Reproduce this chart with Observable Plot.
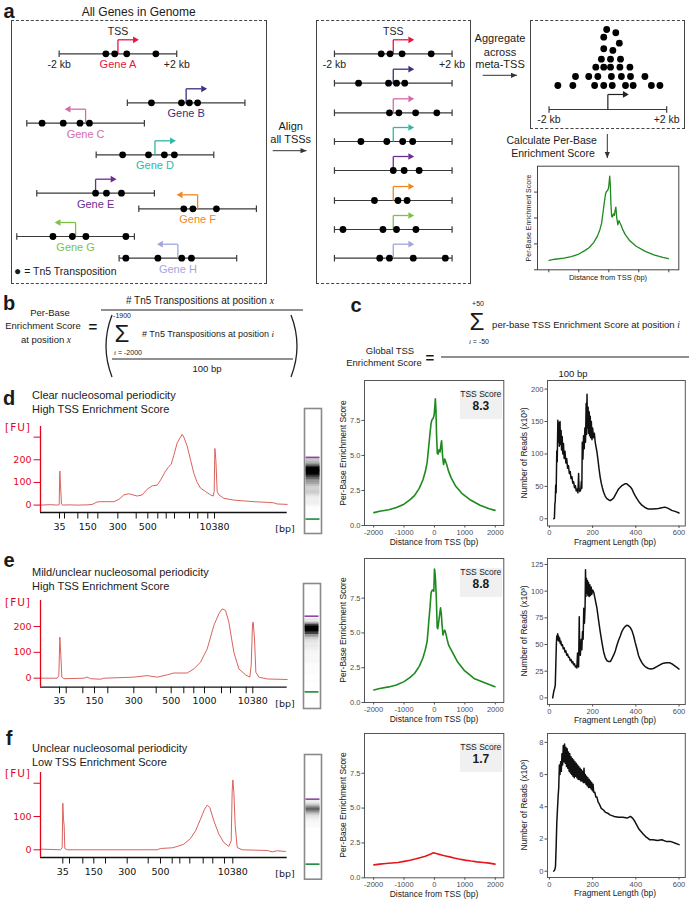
<!DOCTYPE html>
<html><head><meta charset="utf-8">
<script src="https://cdn.jsdelivr.net/npm/d3@7"></script>
<script src="https://cdn.jsdelivr.net/npm/@observablehq/plot@0.6"></script>
<style>
html,body{margin:0;padding:0;background:#fff;}
#fig{position:relative;width:692px;height:900px;overflow:hidden;font-family:"Liberation Sans",Arial,Helvetica,sans-serif;color:#1a1a1a;}
#fig .t{position:absolute;white-space:nowrap;line-height:1;}
.box{position:absolute;box-sizing:border-box;border-left:1px solid #444;border-right:1px solid #444;border-top:1px dashed #444;border-bottom:1px dashed #444;}
.it{font-family:"Liberation Serif","DejaVu Serif",serif;font-style:italic;}
</style></head><body><div id="fig"></div>
<script>
// ================= DATA =================
// Panel a – schematic genes (TSS locus in kb along a schematic genome, strand, track row)
const geneNames  = ["Gene A","Gene B","Gene C","Gene D","Gene E","Gene F","Gene G","Gene H"];
const geneColors = ["#e5173f","#3b2f80","#d56ba9","#2fb8a6","#6c2c90","#f4861f","#7cc243","#9fa7d9"];
const geneTSS    = [3.62, 5.94, 2.52, 4.88, 2.86, 6.33, 2.18, 5.66];
const geneStrand = [1, 1, -1, 1, 1, -1, -1, -1];
const geneTrack  = [3.33, 8.23, 10.27, 13.43, 17.27, 18.83, 21.6, 23.77];
const alignedTrack = [3.33, 6.27, 9.23, 12.1, 15.0, 18.0, 20.9, 23.77];
// Tn5 insertion sites relative to each TSS (kb, genome orientation)
const tn5Offsets = [[-0.41,-0.11,0.30,1.29],[-1.18,-0.16,0.11,0.39],[-1.48,-0.76,-0.19,0.13],[-1.10,-0.22,0.32,0.66],
                    [0.0,0.37,0.88],[-0.47,-0.16,0.64],[-0.77,-0.11,0.35,1.71],[-1.77,-0.68,0.13,0.46]];
// meta-TSS aggregate pile (kb, stack level)
const metaKb    = [-1.70,-1.19,-0.45,-0.14,0.15,0.60,0.86,1.48,1.77, -1.10,-0.65,-0.34,0.12,0.46,0.77,1.26,
                   -0.41,-0.14,0.09,0.41,0.75, -0.22,0.09,0.43, -0.14,0.17, 0.39, -0.14, 0.27, -0.04];
const metaLevel = [0,0,0,0,0,0,0,0,0, 1,1,1,1,1,1,1, 2.03,2.03,2.03,2.03,2.03, 2.92,2.92,2.92, 4.08,3.89, 4.7, 5.37, 5.86, 6.22];

// Panels d–f: TSS enrichment profiles (distance bp, per-base score)
const tssX_d = [-1990,-1800,-1500,-1250,-1000,-800,-650,-500,-380,-300,-240,-190,-140,-110,-80,-40,-10,10,30,50,70,95,120,150,185,215,235,265,300,340,370,410,460,550,700,900,1200,1500,1800,1990];
const tssY_d = [0.92,1.02,1.12,1.28,1.52,1.85,2.15,2.65,3.25,3.85,4.5,5.6,6.7,7.3,7.55,7.65,7.9,8.4,9.05,8.2,6.4,5.15,5.1,5.4,5.25,5.8,6.05,5.0,4.35,4.75,4.55,4.3,3.9,3.4,2.8,2.3,1.8,1.45,1.2,1.08];
const tssX_e = [-1990,-1800,-1500,-1250,-1000,-800,-650,-500,-380,-300,-240,-190,-140,-110,-80,-50,-20,0,15,35,60,90,110,140,170,200,225,250,280,310,340,380,420,470,580,750,970,1300,1630,1990];
const tssY_e = [0.9,1.0,1.12,1.25,1.5,1.8,2.1,2.6,3.2,3.8,4.4,5.7,7.0,7.9,8.05,8.1,8.0,9.6,9.4,8.8,7.6,5.4,5.3,5.8,6.3,6.8,6.4,5.6,4.85,5.1,5.2,4.9,4.5,4.1,3.65,2.95,2.33,1.73,1.44,1.13];
const tssX_f = [-1990,-1800,-1600,-1400,-1200,-1000,-800,-600,-450,-300,-200,-120,-60,-20,20,60,120,200,300,400,500,650,800,1000,1200,1400,1600,1800,1990];
const tssY_f = [0.93,0.98,1.02,1.06,1.1,1.18,1.26,1.36,1.45,1.55,1.63,1.7,1.78,1.8,1.76,1.74,1.7,1.66,1.6,1.55,1.5,1.42,1.35,1.27,1.2,1.14,1.1,1.05,0.98];
const tssScores = ["8.3","8.8","1.7"];

// Fragment length distributions [bp, reads]
const frag_d = [[20,0],[23,1],[25,22],[27,28],[29,52],[31,40],[34,105],[36,88],[39,152],[41,118],[44,148],[46,112],[49,150],[51,115],[54,136],[56,106],[59,127],[62,100],[65,116],[68,93],[72,104],[76,86],[80,93],[84,78],[88,82],[92,70],[96,73],[100,62],[104,65],[108,55],[112,57],[116,48],[120,51],[124,43],[128,46],[132,40],[135,70],[137,47],[141,42],[145,45],[148,58],[150,47],[152,118],[155,92],[158,128],[161,108],[164,140],[167,118],[170,178],[172,130],[174,192],[176,140],[179,172],[181,132],[184,165],[186,128],[189,158],[191,125],[194,150],[197,122],[200,140],[204,125],[208,132],[212,118],[216,110],[220,103],[225,90],[230,76],[235,64],[240,55],[245,48],[251,41],[258,35],[266,31],[275,29],[282,28],[290,30],[297,32],[305,37],[312,41],[320,46],[335,51],[350,54],[358,54],[365,52],[375,49],[382,46],[390,40],[398,35],[405,31],[415,26],[428,21],[445,17],[458,15],[480,15],[505,16],[520,17],[535,18],[550,16],[566,13],[585,11],[600,9]];
const frag_e = [[15,0],[20,6],[24,9],[27,12],[30,35],[32,50],[34,58],[36,55],[38,60],[40,54],[42,58],[44,53],[47,56],[50,51],[53,53],[56,49],[60,50],[64,46],[68,47],[72,43],[76,44],[80,40],[84,41],[88,38],[92,38],[96,35],[100,36],[104,33],[108,34],[112,31],[116,32],[120,29],[124,30],[127,28],[130,42],[132,30],[135,29],[138,76],[140,42],[143,40],[147,55],[150,45],[153,62],[156,55],[159,84],[162,70],[165,85],[167,120],[169,95],[171,112],[173,98],[176,110],[178,96],[181,108],[184,95],[187,106],[190,96],[193,104],[196,97],[200,101],[205,99],[212,92],[220,84],[228,72],[235,62],[243,52],[251,43],[258,38],[266,35],[274,34],[282,34],[290,37],[297,40],[305,44],[312,49],[320,54],[328,58],[335,62],[343,65],[351,67],[358,68],[366,67.5],[374,66],[382,63],[390,58],[397,52],[405,46],[412,40],[420,36],[428,33],[435,31],[445,29],[458,27.5],[470,27],[482,27.5],[495,29],[512,31],[528,32.5],[543,33],[555,33],[566,32],[580,30],[590,28.5],[600,27]];
const frag_f = [[20,0],[25,0.1],[28,0.3],[31,1.5],[34,3.0],[37,3.8],[40,4.6],[43,5.2],[46,6.6],[49,6.0],[52,6.8],[55,6.2],[58,7.3],[61,6.6],[64,7.8],[67,6.8],[70,7.9],[73,6.7],[76,7.7],[79,6.5],[82,7.6],[85,6.4],[88,7.4],[91,6.2],[94,7.3],[97,6.1],[100,7.1],[103,6.0],[106,7.0],[109,5.9],[112,6.9],[115,5.8],[118,6.8],[121,5.9],[124,6.7],[127,5.8],[130,6.6],[133,5.7],[136,6.5],[139,5.7],[142,6.4],[145,5.6],[148,6.3],[151,5.6],[154,6.2],[157,5.5],[160,6.4],[163,5.5],[166,6.0],[169,5.4],[172,5.9],[175,5.3],[178,5.8],[181,5.2],[184,5.7],[187,5.2],[190,5.6],[193,5.1],[196,5.5],[199,5.0],[202,5.4],[205,4.9],[210,4.9],[215,4.6],[220,4.6],[225,4.3],[230,4.2],[240,3.9],[250,3.8],[260,3.65],[270,3.6],[280,3.5],[290,3.45],[300,3.4],[320,3.35],[340,3.35],[360,3.3],[375,3.4],[385,3.3],[395,3.1],[405,2.85],[415,2.6],[425,2.45],[435,2.3],[445,2.15],[455,2.05],[465,1.95],[480,1.95],[500,1.9],[520,1.95],[540,1.85],[560,1.85],[580,1.75],[600,1.65]];

// Bioanalyzer: ladder sizes and their migration times (relative) per sample
const ladderBp = [35,50,100,150,200,300,400,500,600,700,1000,2000,3000,7000,10380];
const ladderT_d = [7.70,9.73,15.13,19.18,23.24,31.35,38.79,43.50,47.55,50.95,54.32,60.40,63.76,67.82,70.54];
const ladderT_e = [7.70,10.42,17.15,21.89,27.28,37.82,46.90,52.98,58.09,62.14,66.48,73.37,77.02,83.38,86.06];
const ladderT_f = [9.04,11.76,17.15,21.61,26.35,35.14,43.66,48.64,53.39,56.47,60.52,65.95,69.84,74.58,77.95];
const labelled_d = [35,150,300,500,10380];
const labelled_e = [35,150,300,500,1000,10380];
const labelled_f = [35,150,300,500,10380];
// electropherogram traces [time, FU]
const bio_d = [[0,0],[4.05,2],[6.76,0],[7.57,2],[7.84,150],[8.11,90],[8.51,5],[8.92,0],[11.5,1],[14.86,0],[18.92,1],[20.95,3],[22.97,14],[24.32,15],[29.73,15],[31.76,25],[33.78,45],[35.81,50],[37.16,46],[39.19,40],[41.22,45],[43.24,70],[45.27,85],[47.30,88],[48.65,110],[50.68,150],[52.03,170],[52.97,180],[54.05,220],[55.41,275],[56.76,300],[57.43,312],[58.11,300],[59.46,260],[60.81,200],[62.16,140],[63.51,100],[64.86,75],[66.89,60],[68.92,45],[70.0,40],[70.41,60],[70.68,250],[71.08,200],[71.62,60],[72.30,45],[74.32,30],[78.38,22],[86.49,15],[91.89,12],[94.59,10],[95.95,5],[100,3]];
const bio_e = [[0,0],[6.76,0],[7.43,10],[7.84,159],[8.24,88],[8.65,4],[9.46,-2],[17.57,0],[18.92,4],[20.27,-2],[24.32,-4],[25.68,0],[37.84,4],[43.24,10],[47.30,4],[51.35,13],[54.05,20],[59.46,20],[62.16,36],[64.86,62],[67.57,113],[70.27,204],[72.30,249],[73.65,268],[75.0,262],[76.35,217],[78.38,100],[80.41,36],[83.11,13],[84.86,4],[85.41,50],[85.95,210],[86.22,217],[86.76,152],[87.30,23],[88.51,4],[91.89,-3],[100,-5]];
const bio_f = [[0.27,2],[8.11,0],[8.78,7],[9.05,140],[9.32,92],[9.59,72],[9.86,4],[10.81,0],[47.30,0],[48.65,4],[53.38,6],[55.41,10],[58.11,17],[60.81,34],[62.84,57],[64.86,92],[66.49,122],[67.57,134],[68.65,127],[70.27,87],[72.30,47],[74.32,22],[76.35,10],[77.30,27],[77.70,177],[77.97,210],[78.38,172],[78.92,72],[79.73,7],[81.76,0],[91.89,-2],[93.92,-6],[95.95,-3],[99.32,-5]];

// ================= HELPERS =================
const fig = document.getElementById("fig");
const RED = "#e3061b";
const FONT = "Liberation Sans, Arial, sans-serif";
function place(node, left, top) {
  node.style.position = "absolute"; node.style.left = left + "px"; node.style.top = top + "px";
  node.style.overflow = "visible"; node.style.maxWidth = "none";
  fig.appendChild(node); return node;
}
function label(html, x, y, o = {}) {
  const d = document.createElement("div");
  d.className = "t"; d.innerHTML = html;
  const s = d.style;
  s.fontSize = (o.size || 10) + "px";
  if (o.color) s.color = o.color;
  if (o.weight) s.fontWeight = o.weight;
  if (o.family) s.fontFamily = o.family;
  if (o.spacing) s.letterSpacing = o.spacing + "px";
  const ax = o.anchor === "start" ? "0" : o.anchor === "end" ? "-100%" : "-50%";
  s.left = x + "px"; s.top = y + "px";
  s.transform = `translate(${ax},-50%)` + (o.rotate ? ` rotate(${o.rotate}deg)` : "");
  fig.appendChild(d); return d;
}
function box(l, t, w, h) {
  const d = document.createElement("div"); d.className = "box";
  Object.assign(d.style, {left: l + "px", top: t + "px", width: w + "px", height: h + "px"});
  fig.appendChild(d);
}
const baseStyle = {background: "transparent", overflow: "visible", fontFamily: FONT};

// ================= PANEL a =================
box(11, 20, 256, 264); box(316, 20, 155, 264); box(530, 20, 155, 109);
const genes = geneNames.map((name, i) => ({name, tss: geneTSS[i], dir: geneStrand[i], track: geneTrack[i], color: geneColors[i]}));
const gDots = genes.flatMap((g, i) => tn5Offsets[i].map(o => ({x: g.tss + o, track: g.track})));
const aligned = geneNames.map((name, i) => ({name, tss: 0, dir: 1, track: alignedTrack[i], color: geneColors[i]}));
const aDots = aligned.flatMap((g, i) => tn5Offsets[i].map(o => ({x: o * geneStrand[i], track: g.track})));
const ARW = 1.4;
function geneMarks(gs, dots) {
  const ends = gs.flatMap(d => [-2, 2].map(e => ({x: d.tss + e, track: d.track})));
  return [
    Plot.link(gs, {x1: d => d.tss - 2, x2: d => d.tss + 2, y1: "track", y2: "track", stroke: "#3a3a3a", strokeWidth: 1.2}),
    Plot.link(ends, {x1: "x", x2: "x", y1: d => d.track - 0.33, y2: d => d.track + 0.33, stroke: "#3a3a3a", strokeWidth: 1.2}),
    Plot.link(gs, {x1: "tss", x2: "tss", y1: "track", y2: d => d.track - ARW, stroke: "color", strokeWidth: 1.3}),
    Plot.link(gs, {x1: "tss", x2: d => d.tss + d.dir * 0.52, y1: d => d.track - ARW, y2: d => d.track - ARW, stroke: "color", strokeWidth: 1.3}),
    Plot.dot(gs, {x: d => d.tss + d.dir * 0.58, y: d => d.track - ARW, symbol: "triangle", r: 2.5, fill: "color", rotate: d => d.dir * 90}),
    Plot.dot(dots, {x: "x", y: "track", r: 3.4, fill: "#000"})
  ];
}
const KB = 29.4;
const A = genes[0];
place(Plot.plot({
  width: 256, height: 264, margin: 0, style: baseStyle,
  x: {domain: [0, 256 / KB], axis: null}, y: {domain: [0, 26.4], range: [0, 264], axis: null}, color: {type: "identity"},
  marks: [
    ...geneMarks(genes, gDots),
    Plot.text(genes, {x: "tss", y: "track", dy: 11, text: "name", fill: "color", fontSize: 11}),
    Plot.text([{x: A.tss - 2, t: "-2 kb"}, {x: A.tss + 2, t: "+2 kb"}], {x: "x", y: () => A.track, dy: 11, text: "t", fontSize: 10.5, fill: "#222"}),
    Plot.text([A], {x: "tss", y: "track", dy: -22, text: () => "TSS", fontSize: 10.5, fill: "#222"})
  ]
}), 11, 20);
const A2 = aligned[0];
place(Plot.plot({
  width: 155, height: 264, margin: 0, style: baseStyle,
  x: {domain: [-2.61, 2.66], axis: null}, y: {domain: [0, 26.4], range: [0, 264], axis: null}, color: {type: "identity"},
  marks: [
    ...geneMarks(aligned, aDots),
    Plot.text([{x: -2, t: "-2 kb"}, {x: 2, t: "+2 kb"}], {x: "x", y: () => A2.track, dy: 11, text: "t", fontSize: 10.5, fill: "#222"}),
    Plot.text([A2], {x: "tss", y: "track", dy: -22, text: () => "TSS", fontSize: 10.5, fill: "#222"})
  ]
}), 316, 20);
const META_AXIS = -2.67, META_ARROW = -1.0;
place(Plot.plot({
  width: 155, height: 109, margin: 0, style: baseStyle,
  x: {domain: [-2.63, 2.64], axis: null}, y: {domain: [-4.89, 7.22], axis: null},
  marks: [
    Plot.dot(metaKb.map((x, i) => ({x, y: metaLevel[i]})), {x: "x", y: "y", r: 3.4, fill: "#000"}),
    Plot.link([{}], {x1: -2, x2: 2, y1: META_AXIS, y2: META_AXIS, stroke: "#3a3a3a", strokeWidth: 1.2}),
    Plot.link([-2, 2], {x1: d => d, x2: d => d, y1: META_AXIS - 0.37, y2: META_AXIS + 0.37, stroke: "#3a3a3a", strokeWidth: 1.2}),
    Plot.link([{}], {x1: 0, x2: 0, y1: META_AXIS, y2: META_ARROW, stroke: "#222", strokeWidth: 1.2}),
    Plot.link([{}], {x1: 0, x2: 0.52, y1: META_ARROW, y2: META_ARROW, stroke: "#222", strokeWidth: 1.2}),
    Plot.dot([{}], {x: 0.58, y: META_ARROW, symbol: "triangle", r: 2.5, fill: "#222", rotate: 90}),
    Plot.text([{x: -2, t: "-2 kb"}, {x: 2, t: "+2 kb"}], {x: "x", y: () => META_AXIS, dy: 10.5, text: "t", fontSize: 10.5, fill: "#222"})
  ]
}), 530, 20);
// mini per-base chart
const tss_d = tssX_d.map((x, i) => [x, tssY_d[i]]);
const tss_e = tssX_e.map((x, i) => [x, tssY_e[i]]);
const tss_f = tssX_f.map((x, i) => [x, tssY_f[i]]);
place(Plot.plot({
  width: 170, height: 125, marginLeft: 17, marginRight: 11.7, marginTop: 5.7, marginBottom: 15.7, style: baseStyle,
  x: {domain: [-2377, 2333]}, y: {domain: [0, 10]},
  marks: [
    Plot.line(tss_d, {x: d => d[0], y: d => d[1], stroke: "#1e8a1e", strokeWidth: 1.3}),
    Plot.axisX({ticks: [-2000, -1000, 0, 1000, 2000], tickSize: 3, tickFormat: () => "", label: null, color: "#444"}),
    Plot.axisY({ticks: [0, 2.5, 5, 7.5], tickSize: 3, tickFormat: () => "", label: null, color: "#444"}),
    Plot.frame({stroke: "#444"})
  ]
}), 520, 160);

// panel a text
label("a", 9, 11, {size: 20, weight: "bold"});
label("All Genes in Genome", 138.7, 11.7, {size: 12});
label("<span style='font-size:12px'>●</span> = Tn5 Transposition", 14, 271, {size: 10.5, anchor: "start"});
label("Align", 290.7, 126, {size: 11});
label("all TSSs", 290.7, 139.3, {size: 11});
label("Aggregate", 500, 38.3, {size: 11});
label("across", 500, 51.7, {size: 11});
label("meta-TSS", 500, 64.3, {size: 11});
label("Calculate Per-Base", 551.7, 140, {size: 10.5});
label("Enrichment Score", 553, 153.3, {size: 10.5});
label("Per-Base Enrichment Score", 528.3, 217.5, {size: 7, rotate: -90});
label("Distance from TSS (bp)", 608, 277.5, {size: 7.5});

// ================= annotation overlay (arrows, formula bars) =================
const ov = d3.create("svg").attr("width", 692).attr("height", 900);
function arrowLine(x1, y1, x2, y2) {
  ov.append("line").attr("x1", x1).attr("y1", y1).attr("x2", x2).attr("y2", y2).attr("stroke", "#333").attr("stroke-width", 1);
  const a = Math.atan2(y2 - y1, x2 - x1), L = 6, W = 2.6;
  const p = [[x2, y2], [x2 - L * Math.cos(a) + W * Math.sin(a), y2 - L * Math.sin(a) - W * Math.cos(a)], [x2 - L * Math.cos(a) - W * Math.sin(a), y2 - L * Math.sin(a) + W * Math.cos(a)]];
  ov.append("polygon").attr("points", p.map(d => d.join(",")).join(" ")).attr("fill", "#333");
}
arrowLine(272.7, 150.7, 306.5, 150.7);
arrowLine(482.7, 75.3, 517, 75.3);
arrowLine(607.3, 134, 607.3, 158);
function hline(x1, x2, y, w = 1) { ov.append("line").attr("x1", x1).attr("x2", x2).attr("y1", y).attr("y2", y).attr("stroke", "#222").attr("stroke-width", w); }
hline(101, 303, 310, 1.1); hline(112, 293, 359, 1); hline(441, 689, 357, 1.1);
ov.append("path").attr("d", "M112,315 Q100,346 112,377").attr("fill", "none").attr("stroke", "#222").attr("stroke-width", 1.3);
ov.append("path").attr("d", "M291,315 Q303,346 291,377").attr("fill", "none").attr("stroke", "#222").attr("stroke-width", 1.3);
place(ov.node(), 0, 0);

// ================= PANELS b, c =================
label("b", 9, 303, {size: 20, weight: "bold"});
label("# Tn5 Transpositions at position <span class='it'>x</span>", 200, 301, {size: 10});
label("Per-Base", 50, 313, {size: 9.5});
label("Enrichment Score", 43, 326, {size: 9.5});
label("=", 93, 326, {size: 15, weight: "bold"});
label("at position <span class='it'>x</span>", 46, 340, {size: 9.5});
label("-1900", 122, 315, {size: 7});
label("Σ", 122, 334, {size: 24});
label("# Tn5 Transpositions at position <span class='it'>i</span>", 208, 334, {size: 9});
label("<span class='it'>i</span> = -2000", 128, 353, {size: 7});
label("100 bp", 207, 369, {size: 9.5});

label("c", 356, 305, {size: 20, weight: "bold"});
label("+50", 478, 303, {size: 7});
label("Σ", 477, 322, {size: 24});
label("per-base TSS Enrichment Score at position <span class='it'>i</span>", 586, 325, {size: 9.5});
label("<span class='it'>i</span> = -50", 479, 342, {size: 7});
label("Global TSS", 390, 351, {size: 9.5});
label("Enrichment Score", 384, 363, {size: 9.5});
label("=", 430, 357, {size: 15, weight: "bold"});
label("100 bp", 573, 374, {size: 9.5});

// ================= PANELS d, e, f =================
function bio({trace, ladder, labelled, yDomain, yTicks, yLabels, top, h}) {
  const mL = 40, mR = 13.3, mT = 6, mB = 30;
  const tmap = new Map(ladder.map((t, i) => [t, labelled.includes(ladderBp[i]) ? String(ladderBp[i]) : ""]));
  const ymap = new Map(yTicks.map((v, i) => [v, yLabels[i]]));
  place(Plot.plot({
    width: 300, height: h + mT + mB, marginLeft: mL, marginRight: mR, marginTop: mT, marginBottom: mB,
    style: {...baseStyle, fontFamily: "DejaVu Sans, Verdana, sans-serif"},
    x: {domain: [0, 100]}, y: {domain: yDomain},
    marks: [
      Plot.line(trace, {x: d => d[0], y: d => d[1], stroke: "#d9625d", strokeWidth: 1}),
      Plot.ruleY([yDomain[0]], {stroke: "#111", strokeWidth: 1.3}),
      Plot.ruleX([0], {stroke: RED, strokeWidth: 1.3}),
      Plot.axisX({ticks: ladder, tickSize: 6.5, tickPadding: 4, tickFormat: t => tmap.get(t), fontSize: 9.5, color: "#111", label: null}),
      Plot.axisY({ticks: yTicks, tickSize: 6.5, tickPadding: 2.5, tickFormat: v => ymap.get(v), fontSize: 9.5, color: RED, label: null})
    ]
  }), 0, top - mT);
}
function gel({trace, ladder, tDomain, left, top, h}) {
  const lo = ladder[0], hi = ladder[ladder.length - 1];
  const pts = trace.filter(d => d[0] > lo + 1.2 && d[0] < hi - 1.2);
  const segs = d3.pairs(pts, (a, b) => ({t1: a[0], t2: b[0], v: Math.max(0, (a[1] + b[1]) / 2)}));
  place(Plot.plot({
    width: 17, height: h, margin: 0, style: baseStyle,
    x: {domain: [0, 1], axis: null}, y: {domain: tDomain, axis: null},
    color: {type: "pow", exponent: 0.8, domain: [0, 210], scheme: "greys", clamp: true},
    marks: [
      Plot.rect(segs, {x1: 0, x2: 1, y1: "t1", y2: "t2", fill: "v", stroke: "v", strokeWidth: 0.9, insetLeft: 2, insetRight: 2}),
      Plot.ruleY([hi], {stroke: "#8e44a8", strokeWidth: 1.6, insetLeft: 1.5, insetRight: 1.5}),
      Plot.ruleY([lo], {stroke: "#1d8a3c", strokeWidth: 1.6, insetLeft: 1.5, insetRight: 1.5}),
      Plot.frame({stroke: "#8a8a8a", strokeWidth: 1.6})
    ]
  }), left, top);
}
function gg({data, xDomain, yDomain, xTicks, yTicks, yFormat, stroke, sw, left, top, w, h}) {
  const mL = 30, mR = 6, mT = 6, mB = 16;
  place(Plot.plot({
    width: w + mL + mR, height: h + mT + mB, marginLeft: mL, marginRight: mR, marginTop: mT, marginBottom: mB, style: baseStyle,
    x: {domain: xDomain}, y: {domain: yDomain},
    marks: [
      Plot.axisX({ticks: xTicks, tickSize: 2.5, tickPadding: 1.5, fontSize: 7.5, color: "#4d4d4d", tickFormat: d => String(d), label: null}),
      Plot.axisY({ticks: yTicks, tickSize: 2.5, tickPadding: 1.5, fontSize: 7.5, color: "#4d4d4d", tickFormat: yFormat, label: null}),
      Plot.line(data, {x: d => d[0], y: d => d[1], stroke, strokeWidth: sw}),
      Plot.frame({stroke: "#555", strokeWidth: 1})
    ]
  }), left - mL, top - mT);
}
const rows = [
  {key: "d", title: ["Clear nucleosomal periodicity", "High TSS Enrichment Score"], labelY: 398, titleY: 395,
   bio: {trace: bio_d, ladder: ladderT_d, labelled: labelled_d, yDomain: [-32.7, 347], yTicks: [0, 100, 200, 300], yLabels: ["0", "100", "200", ""], top: 425.7, h: 86},
   gel: {tDomain: [-7, 120.3], left: 304, top: 408.3, h: 125},
   tss: tss_d, tssStroke: "#1e8a1e", frameTop: 380, frameBot: 525,
   frag: frag_d, fragDomain: [-11.1, 213.3], fragTicks: [0, 50, 100, 150, 200], fragBot: 525.5, score: tssScores[0]},
  {key: "e", title: ["Mild/unclear nucleosomal periodicity", "High TSS Enrichment Score"], labelY: 560, titleY: 572.3,
   bio: {trace: bio_e, ladder: ladderT_e, labelled: labelled_e, yDomain: [-34.8, 300.4], yTicks: [0, 100, 200], yLabels: ["0", "100", "200"], top: 600, h: 86.7},
   gel: {tDomain: [-9.5, 119.9], left: 303.3, top: 583.3, h: 125},
   tss: tss_e, tssStroke: "#1e8a1e", frameTop: 558.3, frameBot: 702.3,
   frag: frag_e, fragDomain: [-6.2, 130.6], fragTicks: [0, 25, 50, 75, 100, 125], fragBot: 704.3, score: tssScores[1]},
  {key: "f", title: ["Unclear nucleosomal periodicity", "Low TSS Enrichment Score"], labelY: 738, titleY: 748.3,
   bio: {trace: bio_f, ladder: ladderT_f, labelled: labelled_f, yDomain: [-23.1, 232.3], yTicks: [0, 100, 200], yLabels: ["0", "100", ""], top: 771.7, h: 85},
   gel: {tDomain: [-6.9, 125.3], left: 304, top: 754.3, h: 124.7},
   tss: tss_f, tssStroke: "#e8161b", frameTop: 733, frameBot: 877.3,
   frag: frag_f, fragDomain: [-0.39, 8.55], fragTicks: [0, 2, 4, 6, 8], fragBot: 877, score: tssScores[2]}
];
for (const r of rows) {
  label(r.key, 9, r.labelY, {size: 20, weight: "bold"});
  label(r.title[0], 32, r.titleY, {size: 11, anchor: "start"});
  label(r.title[1], 32, r.titleY + 14, {size: 11, anchor: "start"});
  bio(r.bio);
  label("[FU]", 18, r.bio.top + 1.6, {size: 10.5, color: RED, family: "DejaVu Sans, Verdana, sans-serif", spacing: 1});
  label("[bp]", 285, r.bio.top + r.bio.h + 17.5, {size: 9.5, family: "DejaVu Sans, Verdana, sans-serif"});
  gel({trace: r.bio.trace, ladder: r.bio.ladder, ...r.gel});
  gg({data: r.tss, xDomain: [-2300, 2280], yDomain: [0, 10.35], xTicks: [-2000, -1000, 0, 1000, 2000], yTicks: [0, 2.5, 5, 7.5],
      yFormat: d3.format(".1f"), stroke: r.tssStroke, sw: 1.6, left: 364, top: r.frameTop, w: 139.3, h: r.frameBot - r.frameTop});
  gg({data: r.frag, xDomain: [-9, 629], yDomain: r.fragDomain, xTicks: [0, 200, 400, 600], yTicks: r.fragTicks,
      yFormat: d => String(d), stroke: "#111", sw: 1.5, left: 546.7, top: r.frameTop, w: 137.8, h: r.fragBot - r.frameTop});
  // TSS score box
  const b = document.createElement("div");
  Object.assign(b.style, {position: "absolute", left: "460px", top: (r.frameTop + 9.5) + "px", width: "41.5px", height: "29.5px", background: "#f0f0f0"});
  fig.appendChild(b);
  label("TSS Score", 480.8, r.frameTop + 14, {size: 8.5});
  label(r.score, 480.8, r.frameTop + 26, {size: 12, weight: "bold"});
  // axis titles
  label("Per-Base Enrichment Score", 343.3, (r.frameTop + r.frameBot) / 2, {size: 8.5, rotate: -90});
  label("Distance from TSS (bp)", 434, r.frameBot + 16.5, {size: 8.5});
  label("Number of Reads (x10³)", 523.5, (r.frameTop + r.fragBot) / 2, {size: 8.5, rotate: -90});
  label("Fragment Length (bp)", 615, r.fragBot + 16, {size: 8.5});
}
</script></body></html>
